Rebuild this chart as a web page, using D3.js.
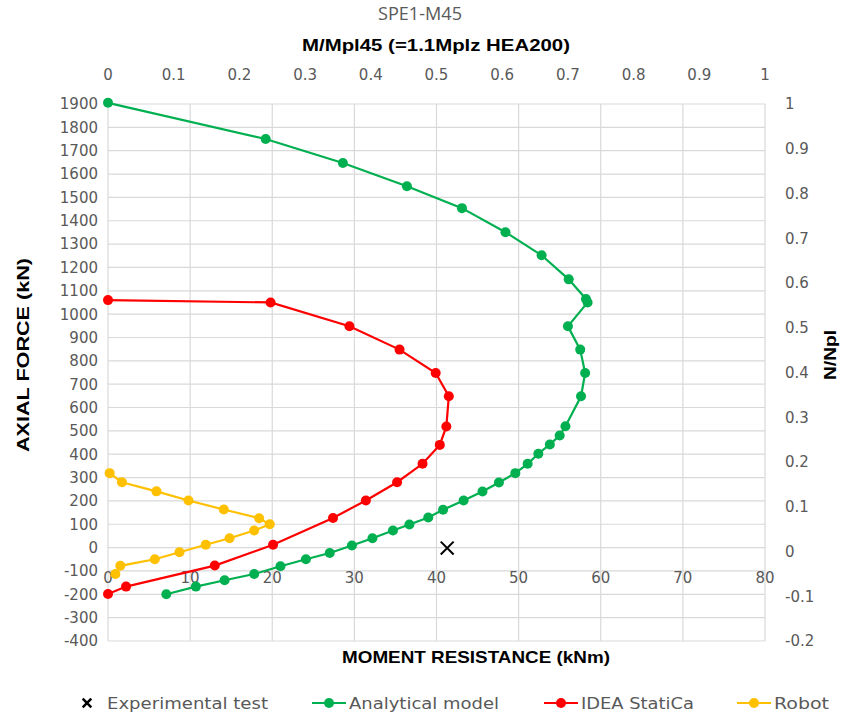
<!DOCTYPE html>
<html><head><meta charset="utf-8">
<script src="https://cdn.jsdelivr.net/npm/d3@7"></script>
<style>body{margin:0;background:#fff}svg{display:block}</style>
</head><body>
<script>
// Data: [moment kNm, axial force kN]
const analytical = [[0,1905],[19.2,1750],[28.6,1647],[36.4,1548],[43.1,1454],[48.4,1351],[52.8,1252],[56.1,1149],[58.2,1065],[58.4,1050],[56.0,948],[57.5,848],[58.1,748],[57.6,648],[55.7,520],[55.0,480],[53.8,442],[52.4,402],[51.1,359],[49.6,319],[47.6,279],[45.6,240],[43.3,202],[40.8,162],[39.0,129],[36.7,99],[34.7,73],[32.2,40],[29.7,9],[27.0,-23],[24.1,-50],[21.0,-80],[17.8,-113],[14.2,-140],[10.7,-167],[7.1,-200]];
const ideaStatica = [[0,1060],[19.8,1050],[29.4,948],[35.5,848],[39.9,748],[41.5,648],[41.2,519],[40.4,440],[38.3,359],[35.2,280],[31.4,202],[27.4,127],[20.1,12],[13.0,-77],[2.2,-167],[0,-199]];
const robot = [[0.2,319],[1.7,280],[5.9,241],[9.8,202],[14.1,163],[18.4,126],[19.7,100],[17.8,73],[14.8,40],[11.9,12],[8.7,-20],[5.7,-50],[1.5,-78],[0.9,-113]];
const experimental = [[41.3,-2]];
const xTicks = [0,10,20,30,40,50,60,70,80];
const yTicks = d3.range(-400,1901,100);
const topTicks = [0,0.1,0.2,0.3,0.4,0.5,0.6,0.7,0.8,0.9,1];
const rightTicks = [-0.2,-0.1,0,0.1,0.2,0.3,0.4,0.5,0.6,0.7,0.8,0.9,1];
const seriesNames = ["Experimental test","Analytical model","IDEA StatiCa","Robot"];
const colors = {green:"#00B050", red:"#FF0000", orange:"#FFC000"};

const W=852,H=717;
const L=108,R=765,T=104,B=641;
const svg=d3.select("body").append("svg").attr("width",W).attr("height",H);
const x=d3.scaleLinear().domain([0,80]).range([L,R]);
const y=d3.scaleLinear().domain([-400,1900]).range([B,T]);
const xTop=d3.scaleLinear().domain([0,1]).range([L,R]);
const yRight=d3.scaleLinear().domain([-0.2,1]).range([B,T]);
const tickFont="'DejaVu Sans', sans-serif";
const grey="#595959";

// grid
const g=svg.append("g");
g.selectAll(".hg").data(yTicks).join("line")
 .attr("x1",L).attr("x2",R).attr("y1",d=>y(d)).attr("y2",d=>y(d))
 .attr("stroke","#d9d9d9").attr("stroke-width",1.2);
g.selectAll(".vg").data(xTicks).join("line")
 .attr("y1",T).attr("y2",B).attr("x1",d=>x(d)).attr("x2",d=>x(d))
 .attr("stroke","#d9d9d9").attr("stroke-width",1.2);

// axes labels
const fmt=d=>String(d);
svg.append("g").selectAll("text").data(yTicks).join("text")
 .attr("x",98).attr("y",d=>y(d)).attr("dy","0.36em").attr("text-anchor","end")
 .attr("font-family",tickFont).attr("font-size",15).attr("fill",grey).text(fmt);
svg.append("g").selectAll("text").data(xTicks).join("text")
 .attr("x",d=>x(d)).attr("y",578).attr("dy","0.36em").attr("text-anchor","middle")
 .attr("font-family",tickFont).attr("font-size",15).attr("fill",grey).text(fmt);
svg.append("g").selectAll("text").data(topTicks).join("text")
 .attr("x",d=>xTop(d)).attr("y",75).attr("dy","0.36em").attr("text-anchor","middle")
 .attr("font-family",tickFont).attr("font-size",15).attr("fill",grey).text(fmt);
svg.append("g").selectAll("text").data(rightTicks).join("text")
 .attr("x",785).attr("y",d=>yRight(d)).attr("dy","0.36em").attr("text-anchor","start")
 .attr("font-family",tickFont).attr("font-size",15).attr("fill",grey).text(fmt);

// titles
svg.append("text").attr("x",420).attr("y",20).attr("text-anchor","middle")
 .attr("font-family","'Open Sans', sans-serif").attr("font-size",18).attr("fill",grey)
 .attr("textLength",84).attr("lengthAdjust","spacingAndGlyphs").text("SPE1-M45");
svg.append("text").attr("x",436).attr("y",51).attr("text-anchor","middle")
 .attr("font-family","'Liberation Sans', sans-serif").attr("font-weight","bold").attr("font-size",17).attr("fill","#000")
 .attr("textLength",268).attr("lengthAdjust","spacingAndGlyphs").text("M/Mpl45 (=1.1Mplz HEA200)");
svg.append("text").attr("x",476).attr("y",663).attr("text-anchor","middle")
 .attr("font-family","'Liberation Sans', sans-serif").attr("font-weight","bold").attr("font-size",17).attr("fill","#000")
 .attr("textLength",268).attr("lengthAdjust","spacingAndGlyphs").text("MOMENT RESISTANCE (kNm)");
svg.append("text").attr("transform","translate(29,355) rotate(-90)").attr("text-anchor","middle")
 .attr("font-family","'Liberation Sans', sans-serif").attr("font-weight","bold").attr("font-size",17).attr("fill","#000")
 .attr("textLength",194).attr("lengthAdjust","spacingAndGlyphs").text("AXIAL FORCE (kN)");
svg.append("text").attr("transform","translate(836,355) rotate(-90)").attr("text-anchor","middle")
 .attr("font-family","'Liberation Sans', sans-serif").attr("font-weight","bold").attr("font-size",17).attr("fill","#000")
 .attr("textLength",50).attr("lengthAdjust","spacingAndGlyphs").text("N/Npl");

// series
const line=d3.line().x(d=>x(d[0])).y(d=>y(d[1]));
function drawSeries(data,color){
  const sg=svg.append("g");
  sg.append("path").datum(data).attr("d",line).attr("fill","none").attr("stroke",color).attr("stroke-width",2.2);
  sg.selectAll("circle").data(data).join("circle").attr("cx",d=>x(d[0])).attr("cy",d=>y(d[1])).attr("r",5).attr("fill",color);
}
drawSeries(analytical,colors.green);
drawSeries(ideaStatica,colors.red);
drawSeries(robot,colors.orange);
const cross=d3.symbol().type(d3.symbolX).size(110);
svg.append("g").selectAll("path").data(experimental).join("path")
 .attr("transform",d=>`translate(${x(d[0])},${y(d[1])})`).attr("d",cross)
 .attr("fill","none").attr("stroke","#000").attr("stroke-width",2);

// legend
const ly=703;
const lg=svg.append("g").attr("font-family",tickFont).attr("font-size",16).attr("fill",grey);
lg.append("path").attr("transform",`translate(87,${ly})`).attr("d",d3.symbol().type(d3.symbolX).size(50))
 .attr("stroke","#000").attr("stroke-width",2.5).attr("fill","none");
lg.append("text").attr("x",107).attr("y",ly).attr("dy","0.36em")
 .attr("textLength",161).attr("lengthAdjust","spacingAndGlyphs").text(seriesNames[0]);
const legItems=[[312,colors.green,seriesNames[1],150],[544,colors.red,seriesNames[2],113],[737,colors.orange,seriesNames[3],55]];
legItems.forEach(([lx,c,name,tl])=>{
  lg.append("line").attr("x1",lx).attr("x2",lx+34).attr("y1",ly).attr("y2",ly).attr("stroke",c).attr("stroke-width",2.2);
  lg.append("circle").attr("cx",lx+17).attr("cy",ly).attr("r",5).attr("fill",c);
  lg.append("text").attr("x",lx+37).attr("y",ly).attr("dy","0.36em")
   .attr("textLength",tl).attr("lengthAdjust","spacingAndGlyphs").text(name);
});
</script>
</body></html>
